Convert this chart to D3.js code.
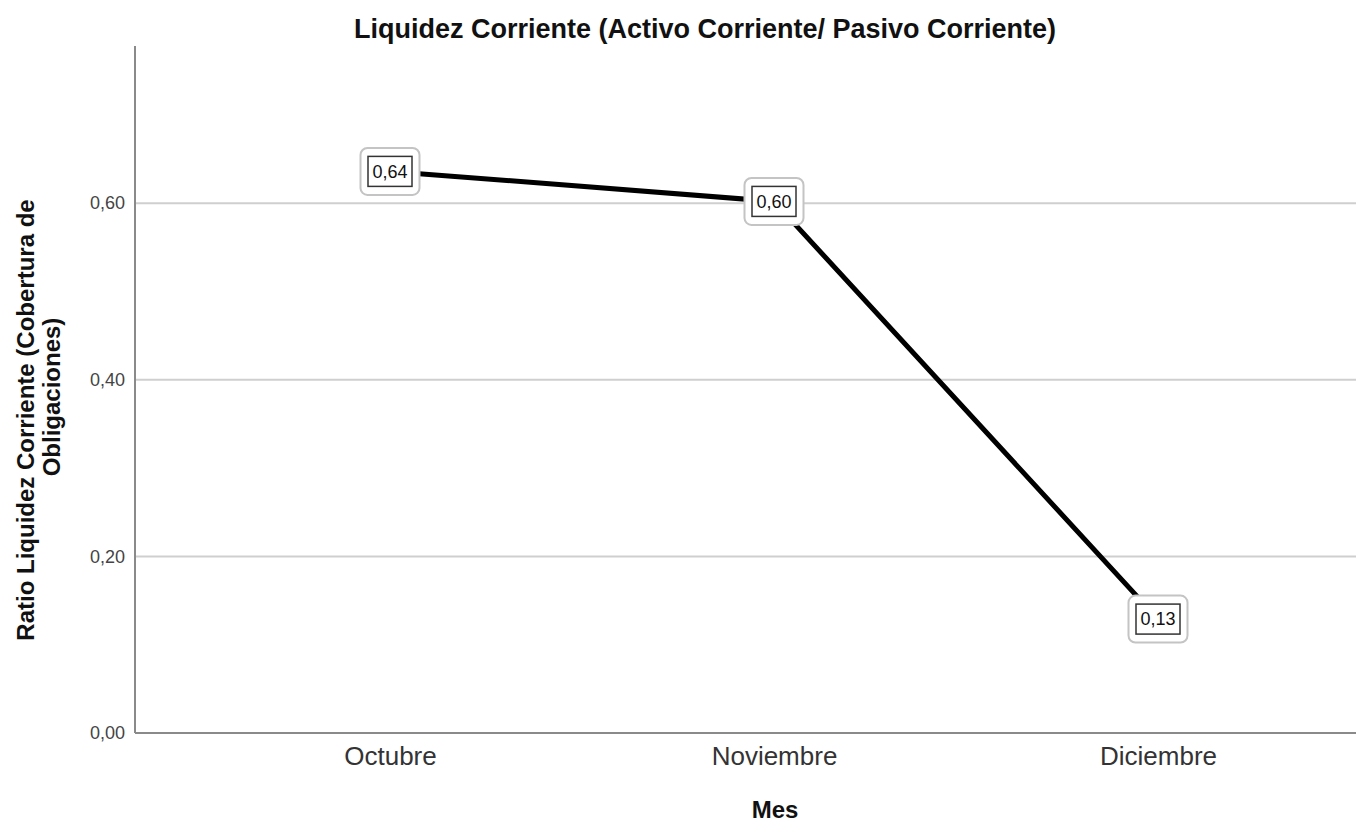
<!DOCTYPE html>
<html>
<head>
<meta charset="utf-8">
<script src="https://cdn.jsdelivr.net/npm/d3@7/dist/d3.min.js"></script>
<style>
  html, body { margin: 0; padding: 0; background: #fff; }
  svg { display: block; font-family: "Liberation Sans", Arial, sans-serif; }
</style>
</head>
<body>
<svg id="chart" width="1356" height="826"></svg>
<script>
const categories = ["Octubre", "Noviembre", "Diciembre"];
const values = [0.636, 0.602, 0.129];
const valueLabels = ["0,64", "0,60", "0,13"];
const yTicks = [0, 0.2, 0.4, 0.6];
const yTickLabels = ["0,00", "0,20", "0,40", "0,60"];
const title = "Liquidez Corriente (Activo Corriente/ Pasivo Corriente)";
const yTitle = ["Ratio Liquidez Corriente (Cobertura de", "Obligaciones)"];
const xTitle = "Mes";

const svg = d3.select("#chart");
const pLeft = 135, pRight = 1356, pTop = 46, pBottom = 733;

const x = d3.scalePoint().domain(categories).range([390, 1158]);
const y = d3.scaleLinear().domain([0, 0.778]).range([pBottom, pTop]);

// gridlines
svg.append("g").selectAll("line").data(yTicks.filter(d => d > 0)).join("line")
  .attr("x1", pLeft).attr("x2", pRight)
  .attr("y1", d => y(d)).attr("y2", d => y(d))
  .attr("stroke", "#cfcfcf").attr("stroke-width", 2);

// y axis
const yAxis = d3.axisLeft(y).tickValues(yTicks)
  .tickFormat((d, i) => yTickLabels[i]).tickSize(0).tickPadding(10);
const gy = svg.append("g").attr("transform", `translate(${pLeft},0)`).call(yAxis);
gy.select(".domain").remove();
gy.selectAll("text").attr("font-size", 18).attr("fill", "#444")
  .attr("font-family", "Liberation Sans, Arial, sans-serif");
svg.append("line").attr("x1", pLeft).attr("x2", pLeft).attr("y1", pTop).attr("y2", pBottom)
  .attr("stroke", "#8a8a8a").attr("stroke-width", 2);

// x axis
const xAxis = d3.axisBottom(x).tickSize(0).tickPadding(14);
const gx = svg.append("g").attr("transform", `translate(0,${pBottom})`).call(xAxis);
gx.select(".domain").remove();
gx.selectAll("text").attr("font-size", 26).attr("fill", "#333")
  .attr("font-family", "Liberation Sans, Arial, sans-serif");
svg.append("line").attr("x1", pLeft).attr("x2", pRight).attr("y1", pBottom).attr("y2", pBottom)
  .attr("stroke", "#8a8a8a").attr("stroke-width", 2);

// line
const pts = categories.map((c, i) => ({ c, v: values[i], l: valueLabels[i] }));
svg.append("path").datum(pts)
  .attr("d", d3.line().x(d => x(d.c)).y(d => y(d.v)))
  .attr("fill", "none").attr("stroke", "#000").attr("stroke-width", 5)
  .attr("stroke-linejoin", "round");

// labels
const lg = svg.append("g").selectAll("g").data(pts).join("g")
  .attr("transform", d => `translate(${x(d.c)},${y(d.v)})`);
lg.append("rect").attr("x", -29.5).attr("y", -23.5).attr("width", 59).attr("height", 47)
  .attr("rx", 7).attr("fill", "#fff").attr("stroke", "#c4c4c4").attr("stroke-width", 2);
lg.append("rect").attr("x", -22).attr("y", -15).attr("width", 44).attr("height", 30)
  .attr("fill", "#fff").attr("stroke", "#333").attr("stroke-width", 1.5);
lg.append("text").attr("text-anchor", "middle").attr("dy", "0.35em")
  .attr("font-size", 18).attr("fill", "#111").text(d => d.l);

// titles
svg.append("text").attr("x", 705).attr("y", 38).attr("text-anchor", "middle")
  .attr("font-size", 27).attr("font-weight", "bold").attr("fill", "#111").text(title);
svg.append("text").attr("x", 775).attr("y", 818).attr("text-anchor", "middle")
  .attr("font-size", 24).attr("font-weight", "bold").attr("fill", "#111").text(xTitle);
svg.append("text").attr("transform", "translate(34,420) rotate(-90)").attr("text-anchor", "middle")
  .attr("font-size", 24).attr("font-weight", "bold").attr("fill", "#111").text(yTitle[0]);
svg.append("text").attr("transform", "translate(60,397) rotate(-90)").attr("text-anchor", "middle")
  .attr("font-size", 24).attr("font-weight", "bold").attr("fill", "#111").text(yTitle[1]);
</script>
</body>
</html>
